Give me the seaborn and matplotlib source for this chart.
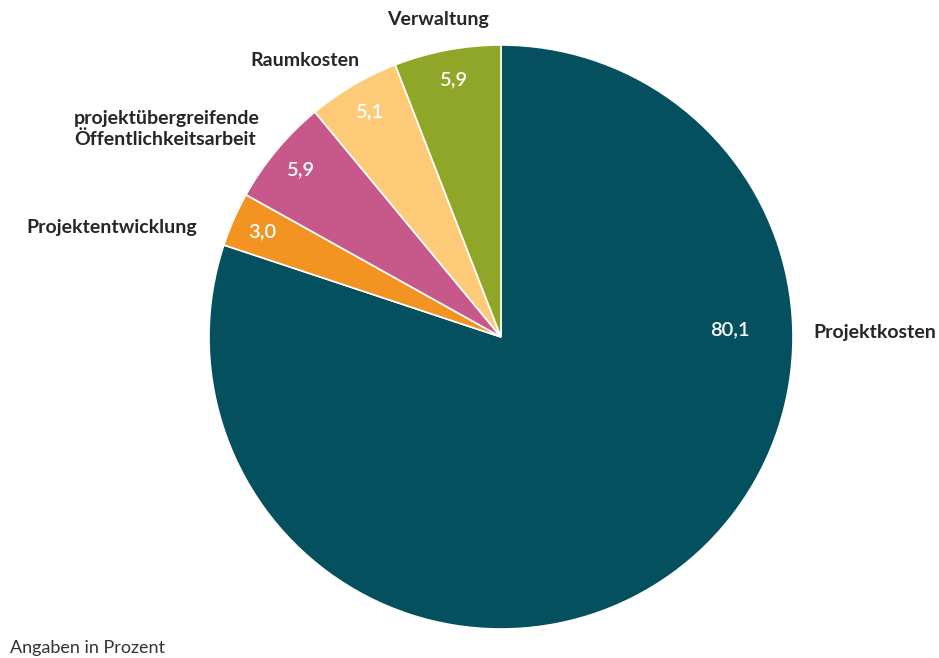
import matplotlib
matplotlib.use("Agg")
import matplotlib.pyplot as plt
import seaborn as sns
import numpy as np

sns.set_theme(style="white")
plt.rcParams['font.family'] = ['Lato', 'DejaVu Sans']

categories = ["Projektkosten", "Projektentwicklung",
              "projektübergreifende\nÖffentlichkeitsarbeit", "Raumkosten", "Verwaltung"]
values = [80.1, 3.0, 5.9, 5.1, 5.9]
colors = ["#04505f", "#f39322", "#c6598a", "#fdcb78", "#8fa628"]
note = "Angaben in Prozent"

W, H = 939, 658
fig = plt.figure(figsize=(W / 100, H / 100), dpi=100)
cx, cy, r = 501, 337, 292
ax = fig.add_axes([(cx - r) / W, (H - cy - r) / H, 2 * r / W, 2 * r / H])

wedges, _ = ax.pie(values, colors=colors, startangle=90, counterclock=False,
                   radius=1, wedgeprops=dict(edgecolor="white", linewidth=1.2))
ax.set_xlim(-1, 1)
ax.set_ylim(-1, 1)
ax.set_aspect("auto")
ax.axis("off")

# value labels
for i, (w, v) in enumerate(zip(wedges, values)):
    if i == 0:
        ang, dist = np.deg2rad(1.8), 0.785
    else:
        ang, dist = np.deg2rad((w.theta1 + w.theta2) / 2), 0.895
    ax.text(dist * np.cos(ang), dist * np.sin(ang), f"{v:.1f}".replace(".", ","),
            ha="center", va="center", color="white", fontsize=14.5, fontweight="semibold")

# category labels (pixel positions)
def px(x, y):
    return x / W, 1 - y / H

lab_kw = dict(color="#262626", fontsize=14, fontweight="bold")
fig.text(*px(936, 333), categories[0], ha="right", va="center", **lab_kw)
fig.text(*px(197, 228), categories[1], ha="right", va="center", **lab_kw)
fig.text(*px(74, 129), categories[2], ha="left", va="center", linespacing=1.25, **lab_kw)
fig.text(*px(305, 60), categories[3], ha="center", va="center", **lab_kw)
fig.text(*px(438, 20), categories[4], ha="center", va="center", **lab_kw)

fig.text(*px(10, 648), note, ha="left", va="center", color="#333333", fontsize=13)

fig.savefig("out.png", dpi=100)
